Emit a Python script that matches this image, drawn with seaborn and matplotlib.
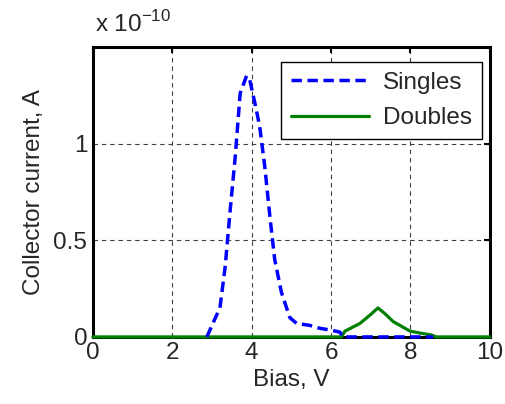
import matplotlib
matplotlib.use("Agg")
import matplotlib.pyplot as plt
import seaborn as sns
import pandas as pd

# Collector current in units of 1e-10 A versus bias voltage
singles_bias = [2.87, 3.11, 3.20, 3.33, 3.46, 3.58, 3.71, 3.87, 3.95, 4.08, 4.20,
                4.33, 4.46, 4.58, 4.75, 4.96, 5.13, 5.46, 5.71, 6.00, 6.22, 6.30,
                7.00, 8.00, 8.57]
singles_current = [0.0, 0.11, 0.15, 0.36, 0.66, 0.92, 1.26, 1.35, 1.33, 1.21, 1.09,
                   0.88, 0.62, 0.40, 0.23, 0.10, 0.07, 0.06, 0.045, 0.035, 0.025, 0.0,
                   0.0, 0.0, 0.0]

doubles_bias = [0.0, 2.0, 4.0, 6.0, 6.26, 6.35, 6.73, 7.02, 7.18, 7.36, 7.56,
                7.99, 8.24, 8.53, 8.65, 9.0, 10.0]
doubles_current = [0.0, 0.0, 0.0, 0.0, 0.0, 0.03, 0.07, 0.12, 0.15, 0.12, 0.08,
                   0.03, 0.02, 0.01, 0.0, 0.0, 0.0]

x_ticks = [0, 2, 4, 6, 8, 10]
y_ticks = [0, 0.5, 1]
y_tick_labels = ["0", "0.5", "1"]

sns.set_style("white")
plt.rcParams["font.family"] = ["Liberation Sans", "DejaVu Sans"]
FS = 17.5

df = pd.concat([
    pd.DataFrame({"Bias": singles_bias, "Current": singles_current, "Series": "Singles"}),
    pd.DataFrame({"Bias": doubles_bias, "Current": doubles_current, "Series": "Doubles"}),
], ignore_index=True)

fig = plt.figure(figsize=(5.05, 4.04), dpi=100)
ax = fig.add_axes([0.184, 0.166, 0.786, 0.718])

sns.lineplot(data=df, x="Bias", y="Current", hue="Series", style="Series",
             palette={"Singles": "#0000ff", "Doubles": "#008000"},
             dashes={"Singles": (3.0, 1.6), "Doubles": ""},
             sort=False, estimator=None, linewidth=2.3, ax=ax)

# curves are drawn over the frame; singles dashes sit above the doubles baseline
for line in ax.lines:
    line.set_clip_on(False)
    if line.get_color() == "#0000ff":
        line.set_zorder(6)
        line.set_linewidth(2.5)
    else:
        line.set_zorder(5)
        line.set_linewidth(2.3)

ax.set_xlim(0, 10)
ax.set_ylim(0, 1.5)
ax.set_xticks(x_ticks)
ax.set_xticklabels([str(t) for t in x_ticks])
ax.set_yticks(y_ticks)
ax.set_yticklabels(y_tick_labels)

ax.grid(True, color="#404040", linestyle=(0, (4, 3.5)), linewidth=0.8)
ax.set_axisbelow(True)
ax.tick_params(direction="in", length=4, width=1.5, labelsize=FS, pad=4,
               top=True, right=True, color="black")
for side in ax.spines.values():
    side.set_linewidth(2.2)
    side.set_color("black")
    side.set_zorder(2.5)

ax.set_xlabel("Bias, V", fontsize=FS, labelpad=3)
ax.set_ylabel("Collector current, A", fontsize=FS, labelpad=6)
ax.text(0.005, 1.035, r"x 10$^{\mathregular{-10}}$", transform=ax.transAxes,
        fontsize=FS, ha="left", va="bottom")

leg = ax.legend(loc="upper right", fontsize=FS, frameon=True, fancybox=False,
                edgecolor="black", framealpha=1, handlelength=3.2,
                handletextpad=0.6, borderpad=0.4, labelspacing=0.55,
                borderaxespad=0, bbox_to_anchor=(0.98, 0.948))
leg.get_frame().set_linewidth(1.0)
leg.set_zorder(7)
leg.set_title(None)

fig.savefig("out.png", dpi=100)
